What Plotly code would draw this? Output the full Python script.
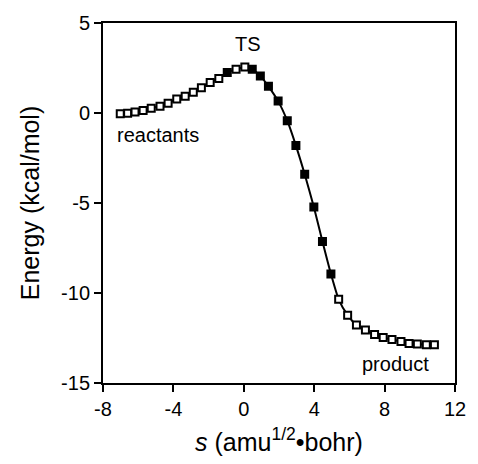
import plotly.graph_objects as go

s_vals = [-7.02, -6.60, -6.18, -5.72, -5.26, -4.76, -4.30, -3.81, -3.33, -2.87,
          -2.41, -1.91, -1.42, -0.94, -0.44, 0.06, 0.48, 0.94, 1.40, 1.95,
          2.47, 2.96, 3.46, 3.98, 4.47, 4.95, 5.39, 5.90, 6.40, 6.91,
          7.43, 7.92, 8.42, 8.93, 9.39, 9.86, 10.37, 10.83]
energy = [-0.04, -0.01, 0.05, 0.14, 0.27, 0.38, 0.54, 0.78, 0.93, 1.15,
          1.40, 1.70, 1.92, 2.25, 2.43, 2.56, 2.43, 2.06, 1.48, 0.66,
          -0.43, -1.81, -3.40, -5.22, -7.14, -8.94, -10.35, -11.23, -11.78, -12.06,
          -12.30, -12.47, -12.58, -12.70, -12.80, -12.83, -12.88, -12.88]
filled = [0, 0, 0, 0, 0, 0, 0, 0, 0, 0,
          0, 0, 0, 1, 0, 0, 1, 1, 1, 1,
          1, 1, 1, 1, 1, 1, 0, 0, 0, 0,
          0, 0, 0, 0, 0, 0, 0, 0]

labels = ["TS", "reactants", "product"]
label_s = [0.25, -4.85, 8.6]
label_e = [3.85, -1.2, -13.95]

x_ticks = [-8, -4, 0, 4, 8, 12]
x_tick_text = ["-8", "-4", "0", "4", "8", "12"]
y_ticks = [5, 0, -5, -10, -15]
y_tick_text = ["5", "0", "-5", "-10", "-15"]

FONT = "Liberation Sans, Arial, Helvetica, sans-serif"

fig = go.Figure()
fig.add_trace(go.Scatter(
    x=s_vals, y=energy, mode="lines",
    line=dict(color="black", width=2, shape="spline", smoothing=0.6),
    hoverinfo="skip", showlegend=False))
fig.add_trace(go.Scatter(
    x=s_vals, y=energy, mode="markers",
    marker=dict(symbol="square", size=7,
                color=["black" if f else "white" for f in filled],
                line=dict(color="black", width=2)),
    showlegend=False))

for t, xs, ys in zip(labels, label_s, label_e):
    fig.add_annotation(x=xs, y=ys, text=t, showarrow=False,
                       font=dict(family=FONT, size=20, color="black"))

axis_common = dict(showgrid=False, zeroline=False, showline=True, linecolor="black",
                   linewidth=2, mirror=True, ticks="outside", ticklen=7, tickwidth=2,
                   tickcolor="black", tickfont=dict(family=FONT, size=20, color="black"))

fig.update_xaxes(range=[-8, 12], tickvals=x_ticks, ticktext=x_tick_text,
                 title=dict(text="<i>s</i> (amu<sup>1/2</sup>•bohr)",
                            font=dict(family=FONT, size=25, color="black"), standoff=14),
                 **axis_common)
fig.update_yaxes(range=[-15, 5], tickvals=y_ticks, ticktext=y_tick_text,
                 title=dict(text="Energy (kcal/mol)",
                            font=dict(family=FONT, size=25, color="black"), standoff=14),
                 **axis_common)

fig.update_layout(width=478, height=464, margin=dict(l=103, r=12, t=23, b=77),
                  plot_bgcolor="white", paper_bgcolor="white")

# remove the browser's default 8px body margin so the figure fills the window exactly
fig.write_html("out.html", config={"displayModeBar": False},
               post_script="document.body.style.margin='0';document.body.style.overflow='hidden';")
